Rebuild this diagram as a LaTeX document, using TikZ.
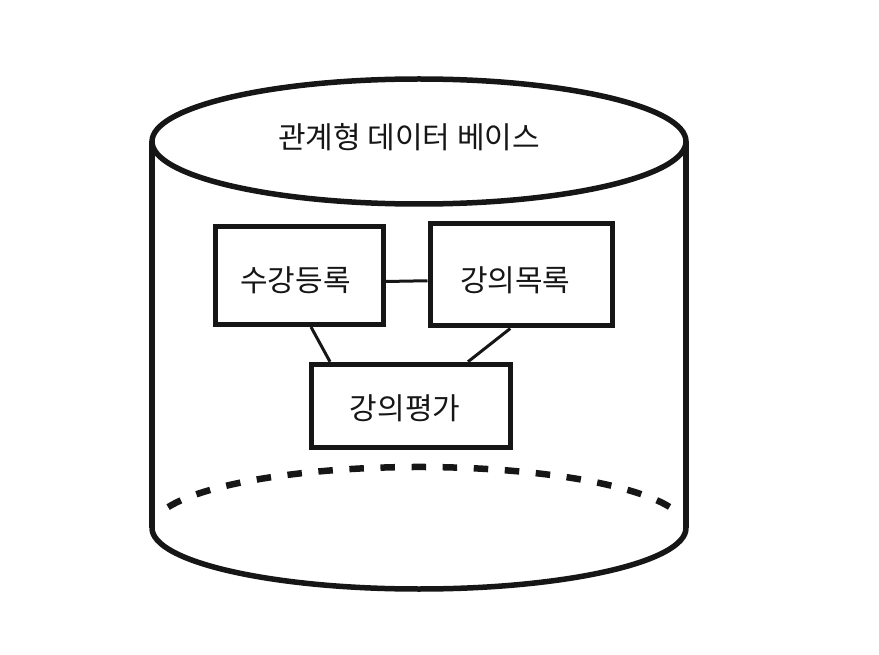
\documentclass[tikz,border=0pt]{standalone}
\usepackage{fontspec}
\setmainfont{Noto Sans CJK KR}
\usetikzlibrary{positioning,calc}
\definecolor{DbInk}{RGB}{22,22,22}
\tikzset{
  db/wall/.style={draw=DbInk, line width=5.5pt},
  db/hidden/.style={draw=DbInk, line width=6.5pt, dash pattern=on 14.5pt off 16.6pt},
  db/table/.style={
    draw=DbInk,
    line width=5pt,
    fill=white,
    text=DbInk,
    inner sep=0pt,
    text height=32pt,
    text depth=0pt,
    font=\fontsize{30}{34}\selectfont
  },
  db/nudge/.style={execute at begin node={\hspace*{#1}}},
  db/link/.style={draw=DbInk, line width=3pt},
  db/title/.style={font=\fontsize{30}{34}\selectfont, text=DbInk, align=center}
}
\begin{document}
\begin{tikzpicture}[x=1pt,y=-1pt]
  \useasboundingbox (0,0) rectangle (879,655);
  % cylinder
  \coordinate (top) at (419,141.5);
  \coordinate (base) at (419,528);
  \coordinate (tl) at (152,141.5);
  \coordinate (tr) at (686,141.5);
  \coordinate (bl) at (152,528);
  \coordinate (br) at (686,528);
  \draw[db/wall] (top) ellipse [x radius=267, y radius=62.5];
  \draw[db/wall] (tl) -- (bl);
  \draw[db/wall] (tr) -- (br);
  \draw[db/wall] (bl) arc[start angle=180, end angle=0, x radius=267, y radius=61];
  \draw[db/hidden] ($(base)+(200:267 and 61)$) arc[start angle=200, end angle=340, x radius=267, y radius=61];
  \node[db/title] (dbname) at (409,137) {관계형 데이터 베이스};
  % tables
  \node[db/table, db/nudge=-7pt, minimum width=168pt, minimum height=98pt] (reg) at (299,275.5) {수강등록};
  \node[db/table, db/nudge=-12pt, text height=34.5pt, minimum width=182.5pt, minimum height=102.5pt] (course) at (521.25,274.75) {강의목록};
  \node[db/table, db/nudge=-12pt, text height=27pt, minimum width=199pt, minimum height=83.5pt] (review) at (411,406) {강의평가};
  \draw[db/link] ([yshift=-6pt]reg.east) -- ([yshift=-6pt]course.west);
  \draw[db/link] ([xshift=12pt]reg.south) -- ([xshift=-81pt]review.north);
  \draw[db/link] ([xshift=-11pt]course.south) -- ([xshift=57pt]review.north);
\end{tikzpicture}
\end{document}
